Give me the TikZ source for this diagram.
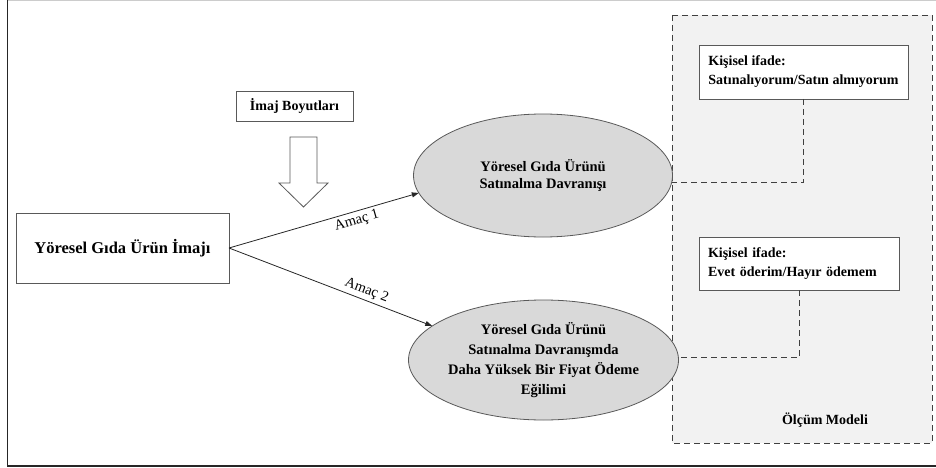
\documentclass[tikz,border=0pt]{standalone}
\usepackage{fontspec}
\setmainfont{Liberation Serif}
\usetikzlibrary{shapes.geometric,arrows.meta,calc}
\definecolor{panelgray}{HTML}{F2F2F2}
\definecolor{ovalgray}{HTML}{D9D9D9}
\definecolor{edgegray}{HTML}{595959}
\definecolor{dashgray}{HTML}{404040}
\begin{document}
\begin{tikzpicture}[x=1pt,y=-1pt,
  every node/.style={font=\fontsize{14}{17}\selectfont\bfseries, inner sep=0pt, outer sep=0pt},
  framebox/.style={draw=edgegray, line width=0.8pt, fill=white, align=center},
  oval/.style={ellipse, draw=edgegray, line width=0.8pt, fill=ovalgray, align=center},
  dashedline/.style={draw=dashgray, line width=0.8pt, dash pattern=on 6pt off 4pt},
  link/.style={draw=black!85, line width=0.8pt, -{Triangle[length=7pt,width=5pt]}},
  linklabel/.style={font=\fontsize{14.5}{17}\selectfont\mdseries, inner sep=3pt, sloped}
]
\useasboundingbox (0,0) rectangle (936,468);

% outer frame
\draw[gray!40, line width=1pt] (7.5,1) -- (936,1);
\draw[black!85, line width=1.2pt] (7.5,0) -- (7.5,466) -- (936,466);

% measurement model panel
\draw[dashedline, fill=panelgray] (672,15) rectangle (932,443);
\node (olcum) at (825,420) {Ölçüm Modeli};

% source construct and image dimensions
\node[framebox, minimum width=213, minimum height=70, font=\fontsize{16.5}{19}\selectfont\bfseries] (imaj) at (122.5,248) {Yöresel Gıda Ürün İmajı};
\node[framebox, minimum width=117, minimum height=30] (boyut) at (294.5,106) {İmaj Boyutları};

% hollow block arrow
\draw[edgegray, fill=white, line width=0.8pt]
  (290,137) -- (317,137) -- (317,183) -- (328,183) -- (303.5,207) -- (279,183) -- (290,183) -- cycle;

% outcome constructs
\node[oval, minimum width=259, minimum height=123, font=\fontsize{14.5}{17}\selectfont\bfseries] (e1) at (543,175.5) {Yöresel Gıda Ürünü\\Satınalma Davranışı};
\node[oval, minimum width=259, minimum height=120, font=\fontsize{14.5}{20}\selectfont\bfseries] (e2) at (543.5,360)
  {Yöresel Gıda Ürünü\\Satınalma Davranışmda\\Daha Yüksek Bir Fiyat Ödeme\\Eğilimi};

% paths
\draw[link] (imaj.east) -- (e1.188) node[linklabel, pos=0.66, below] {Amaç 1};
\draw[link] (imaj.east) -- (e2.163) node[linklabel, pos=0.66, above] {Amaç 2};

% indicators
\node[framebox, minimum width=209, minimum height=54, align=left] (ind1) at (803.5,72)
  {Kişisel ifade:\\[2pt]Satınalıyorum/Satın almıyorum};
\node[framebox, minimum width=200, minimum height=53, align=left, text width=182] (ind2) at (799,263.5)
  {Kişisel ifade:\\[2pt]Evet öderim/Hayır ödemem};

\draw[dashedline] (ind1.south) |- (e1.-3.5);
\draw[dashedline] (ind2.south) |- (e2.1);
\end{tikzpicture}
\end{document}
